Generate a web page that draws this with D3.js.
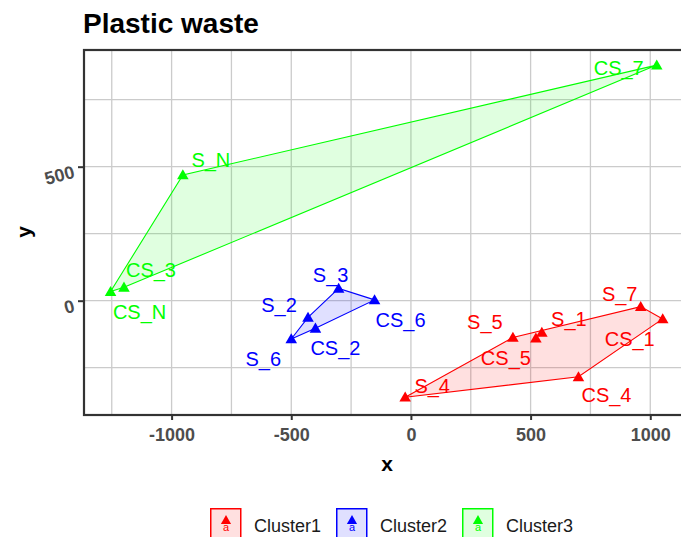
<!DOCTYPE html>
<html><head><meta charset="utf-8">
<script src="https://cdn.jsdelivr.net/npm/d3@7"></script>
<style>body{margin:0;background:#fff;overflow:hidden}text{font-family:Arial,"Liberation Sans",sans-serif}</style>
</head><body><svg id="c" width="681" height="537"></svg>
<script>
// ---- data ----
const pointNames = ["S_7","CS_1","S_1","CS_5","S_5","CS_4","S_4",
                    "S_3","CS_6","S_2","CS_2","S_6",
                    "CS_7","S_N","CS_3","CS_N"];
const xValues = [960,1052,547,522,426,700,-24,
                 -302,-152,-430,-399,-500,
                 1027,-953,-1199,-1255];
const yValues = [-22,-68,-118,-140,-137,-284,-360,
                 46,3,-62,-103,-143,
                 879,469,50,34];
const clusterOf = ["Cluster1","Cluster1","Cluster1","Cluster1","Cluster1","Cluster1","Cluster1",
                   "Cluster2","Cluster2","Cluster2","Cluster2","Cluster2",
                   "Cluster3","Cluster3","Cluster3","Cluster3"];
const clusterNames = ["Cluster1","Cluster2","Cluster3"];
const xTicks = [-1000,-500,0,500,1000];
const xMinor = [-1250,-750,-250,250,750];
const yTicks = [0,500];
const yMinor = [-250,250,750];
const chartTitle = "Plastic waste";

// ---- layout (label nudges in px) ----
const labelNudge = {
  "S_7":[-21,-13],"CS_1":[-33,20],"S_1":[27,-13],"CS_5":[-30,20],"S_5":[-28,-15],"CS_4":[28,18],"S_4":[27,-11],
  "S_3":[-8,-13],"CS_6":[26,20],"S_2":[-29,-12],"CS_2":[20,20],"S_6":[-28,20],
  "CS_7":[-38,3],"S_N":[28,-15],"CS_3":[27,-17],"CS_N":[29,20]
};
const colors = {"Cluster1":"#FF0000","Cluster2":"#0000FF","Cluster3":"#00FF00"};

const svg = d3.select("#c");
const L = 84, R = 690, T = 50, B = 415;
const x = d3.scaleLinear().domain([-1366, 1166]).range([L, R]);
const y = d3.scaleLinear().domain([-426.5, 935.4]).range([B, T]);
const fmt = d => String(d);

// grid
const grid = svg.append("g").attr("stroke","#CBCBCB").attr("stroke-width",1.3);
xMinor.concat(xTicks).forEach(v => grid.append("line").attr("x1",x(v)).attr("x2",x(v)).attr("y1",T).attr("y2",B));
yMinor.concat(yTicks).forEach(v => grid.append("line").attr("y1",y(v)).attr("y2",y(v)).attr("x1",L).attr("x2",R));

const pts = pointNames.map((n,i)=>({name:n,x:xValues[i],y:yValues[i],c:clusterOf[i]}));

// hulls
clusterNames.forEach(c => {
  const p = pts.filter(d=>d.c===c).map(d=>[x(d.x),y(d.y)]);
  const hull = d3.polygonHull(p);
  svg.append("path").attr("d","M"+hull.join("L")+"Z")
    .attr("fill",colors[c]).attr("fill-opacity",0.12)
    .attr("stroke",colors[c]).attr("stroke-width",1.1);
});

// points
const tri = d3.symbol().type(d3.symbolTriangle).size(58);
svg.append("g").selectAll("path").data(pts).join("path")
  .attr("d",tri).attr("transform",d=>`translate(${x(d.x)},${y(d.y)+1})`)
  .attr("fill",d=>colors[d.c]);

// labels
svg.append("g").selectAll("text").data(pts).join("text")
  .attr("x",d=>x(d.x)+labelNudge[d.name][0]).attr("y",d=>y(d.y)+labelNudge[d.name][1])
  .attr("text-anchor","middle").attr("dominant-baseline","central")
  .attr("font-size",20).attr("fill",d=>colors[d.c]).text(d=>d.name);

// panel border
svg.append("rect").attr("x",L).attr("y",T).attr("width",R-L).attr("height",B-T)
  .attr("fill","none").attr("stroke","#333").attr("stroke-width",2.2);

// x axis
const xa = svg.append("g").attr("transform",`translate(0,${B})`)
  .call(d3.axisBottom(x).tickValues(xTicks).tickSize(5).tickPadding(8).tickFormat(fmt));
xa.select(".domain").remove();
xa.selectAll("line").attr("stroke","#333").attr("stroke-width",2);
xa.selectAll("text").attr("font-size",18).attr("font-weight","bold").attr("fill","#4D4D4D")
  .attr("font-family","Arial, 'Liberation Sans', sans-serif");

// y axis
const ya = svg.append("g").attr("transform",`translate(${L},0)`)
  .call(d3.axisLeft(y).tickValues(yTicks).tickSize(6).tickFormat(fmt));
ya.select(".domain").remove();
ya.selectAll("line").attr("stroke","#333").attr("stroke-width",2);
ya.selectAll("text").attr("font-size",18).attr("font-weight","bold").attr("fill","#4D4D4D")
  .attr("font-family","Arial, 'Liberation Sans', sans-serif")
  .attr("x",-10).attr("dy","0.35em").attr("y",4)
  .attr("transform","rotate(-15,-10,4)");

// axis titles
svg.append("text").attr("x",(L+R)/2).attr("y",471).attr("text-anchor","middle")
  .attr("font-size",21).attr("font-weight","bold").attr("fill","#000").text("x");
svg.append("text").attr("transform","translate(31,232) rotate(-90)").attr("text-anchor","middle")
  .attr("font-size",21).attr("font-weight","bold").attr("fill","#000").text("y");

// title
svg.append("text").attr("x",83).attr("y",33).attr("font-size",28).attr("font-weight","bold")
  .attr("fill","#000").text(chartTitle);

// legend
const legX = [210,336,462];
clusterNames.forEach((c,i)=>{
  const g = svg.append("g").attr("transform",`translate(${legX[i]},508)`);
  g.append("rect").attr("x",0.75).attr("y",0.75).attr("width",30).attr("height",32)
    .attr("fill",colors[c]).attr("fill-opacity",0.12).attr("stroke",colors[c]).attr("stroke-width",1.5);
  g.append("path").attr("d",d3.symbol().type(d3.symbolTriangle).size(45)()).attr("transform","translate(16,13)").attr("fill",colors[c]);
  g.append("text").attr("x",16).attr("y",23).attr("text-anchor","middle").attr("font-size",11).attr("fill",colors[c]).text("a");
  g.append("text").attr("x",44).attr("y",24).attr("font-size",18).attr("fill","#1A1A1A").text(c);
});
</script></body></html>
